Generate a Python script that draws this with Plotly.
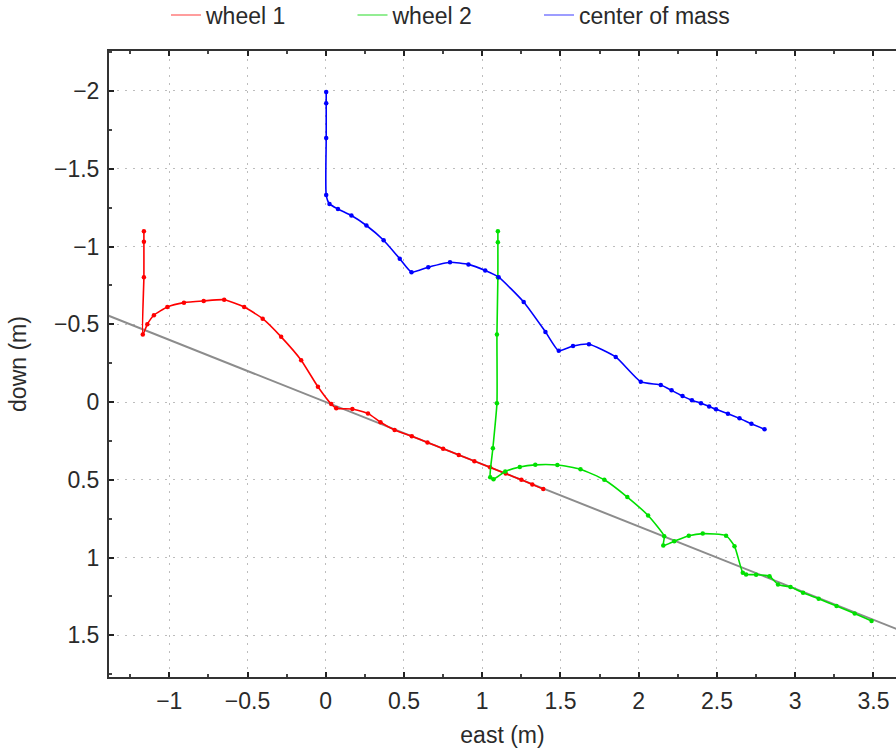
import plotly.graph_objects as go

# ---- data ----
ground_x = [-1.5, 3.8]
ground_y = [-0.6, 1.52]

wheel1_x = [-1.162, -1.162, -1.162, -1.169, -1.14, -1.098, -1.012, -0.906, -0.78, -0.649, -0.521,
            -0.403, -0.285, -0.157, -0.05, 0.035, 0.067, 0.17, 0.27, 0.35, 0.44, 0.55, 0.65,
            0.75, 0.85, 0.95, 1.05, 1.15, 1.25, 1.32, 1.39]
wheel1_y = [-1.098, -1.03, -0.803, -0.434, -0.50, -0.558, -0.611, -0.639, -0.650, -0.658, -0.611,
            -0.536, -0.419, -0.269, -0.098, 0.013, 0.04, 0.045, 0.073, 0.13, 0.18, 0.22, 0.26,
            0.30, 0.34, 0.38, 0.42, 0.46, 0.50, 0.53, 0.56]

wheel2_x = [1.10, 1.10, 1.10, 1.094, 1.094, 1.068, 1.051, 1.072, 1.147, 1.24, 1.339, 1.48, 1.628,
            1.78, 1.927, 2.06, 2.163, 2.157, 2.227, 2.32, 2.409, 2.558, 2.612, 2.665, 2.686, 2.75,
            2.836, 2.89, 2.97, 3.05, 3.15, 3.264, 3.38, 3.488]
wheel2_y = [-1.098, -1.028, -0.80, -0.434, 0.008, 0.297, 0.483, 0.496, 0.447, 0.418, 0.404, 0.405, 0.432,
            0.50, 0.611, 0.73, 0.863, 0.923, 0.895, 0.86, 0.846, 0.859, 0.927, 1.098, 1.109, 1.11,
            1.12, 1.173, 1.19, 1.226, 1.265, 1.312, 1.36, 1.408]

com_x = [0.003, 0.003, 0.003, 0.003, 0.024, 0.078, 0.164, 0.26, 0.37, 0.473, 0.548, 0.655, 0.794,
         0.912, 1.019, 1.105, 1.265, 1.404, 1.489, 1.58, 1.682, 1.853, 2.013, 2.141, 2.21, 2.28,
         2.34, 2.398, 2.45, 2.494, 2.57, 2.644, 2.72, 2.804]
com_y = [-1.994, -1.921, -1.697, -1.331, -1.274, -1.241, -1.199, -1.135, -1.04, -0.921, -0.835, -0.867, -0.899,
         -0.885, -0.846, -0.803, -0.643, -0.451, -0.329, -0.36, -0.372, -0.29, -0.13, -0.109, -0.075, -0.038,
         -0.012, 0.008, 0.028, 0.047, 0.075, 0.105, 0.14, 0.175]

x_ticks = [-1, -0.5, 0, 0.5, 1, 1.5, 2, 2.5, 3, 3.5]
y_ticks = [-2, -1.5, -1, -0.5, 0, 0.5, 1, 1.5]

FONT = "Liberation Sans, Arial, sans-serif"
TXT = "#2a2a2a"

fig = go.Figure()

fig.add_trace(go.Scatter(x=ground_x, y=ground_y, mode="lines",
                         line=dict(color="#8c8c8c", width=2), showlegend=False, hoverinfo="skip"))

series = [
    ("wheel 1", wheel1_x, wheel1_y, "#ff0000", "rgba(255,60,60,0.5)", "legend"),
    ("wheel 2", wheel2_x, wheel2_y, "#00e000", "rgba(40,220,40,0.5)", "legend2"),
    ("center of mass", com_x, com_y, "#0000ff", "rgba(60,60,255,0.5)", "legend3"),
]
for name, xs, ys, col, lcol, lg in series:
    fig.add_trace(go.Scatter(x=xs, y=ys, mode="lines+markers", name=name,
                             line=dict(color=col, width=1.6, shape="spline", smoothing=0.5),
                             marker=dict(color=col, size=4.5),
                             showlegend=False))
for name, xs, ys, col, lcol, lg in series:
    fig.add_trace(go.Scatter(x=[None], y=[None], mode="lines", name=name, legend=lg,
                             line=dict(color=lcol, width=2), showlegend=True))

axis_common = dict(
    showline=True, linecolor="#333", linewidth=2,
    ticks="inside", ticklen=5, tickcolor="#222", tickwidth=1.5,
    showgrid=True, gridcolor="#bdbdbd", griddash="2px,6px", gridwidth=1,
    zeroline=False,
    tickfont=dict(family=FONT, size=23, color=TXT),
    minor=dict(dtick=0.25, ticks="inside", ticklen=3, tickcolor="#444", showgrid=False),
)

fig.update_xaxes(**axis_common, range=[-1.385, 3.644], tickvals=x_ticks,
                 mirror="ticks",
                 title=dict(text="east (m)", font=dict(family=FONT, size=23, color=TXT), standoff=14),
                 ticklabelstandoff=2)
fig.update_yaxes(**axis_common, range=[1.768, -2.257], tickvals=y_ticks,
                 title=dict(text="down (m)", font=dict(family=FONT, size=23, color=TXT), standoff=21),
                 ticklabelstandoff=3)


def legend_at(px):
    return dict(orientation="h", xref="container", yref="container",
                x=px / 896, xanchor="left", y=1 - 15 / 749, yanchor="middle",
                font=dict(family=FONT, size=23, color=TXT),
                bgcolor="rgba(0,0,0,0)")


fig.update_layout(
    width=896, height=749,
    margin=dict(l=109, r=0, t=51, b=72),
    paper_bgcolor="white", plot_bgcolor="white",
    font=dict(family=FONT, size=23, color=TXT),
    legend=legend_at(166),
    legend2=legend_at(352.5),
    legend3=legend_at(539),
)

fig.write_html("out.html", config={"displayModeBar": False},
               post_script="document.body.style.margin='0';document.body.style.overflow='hidden';")
